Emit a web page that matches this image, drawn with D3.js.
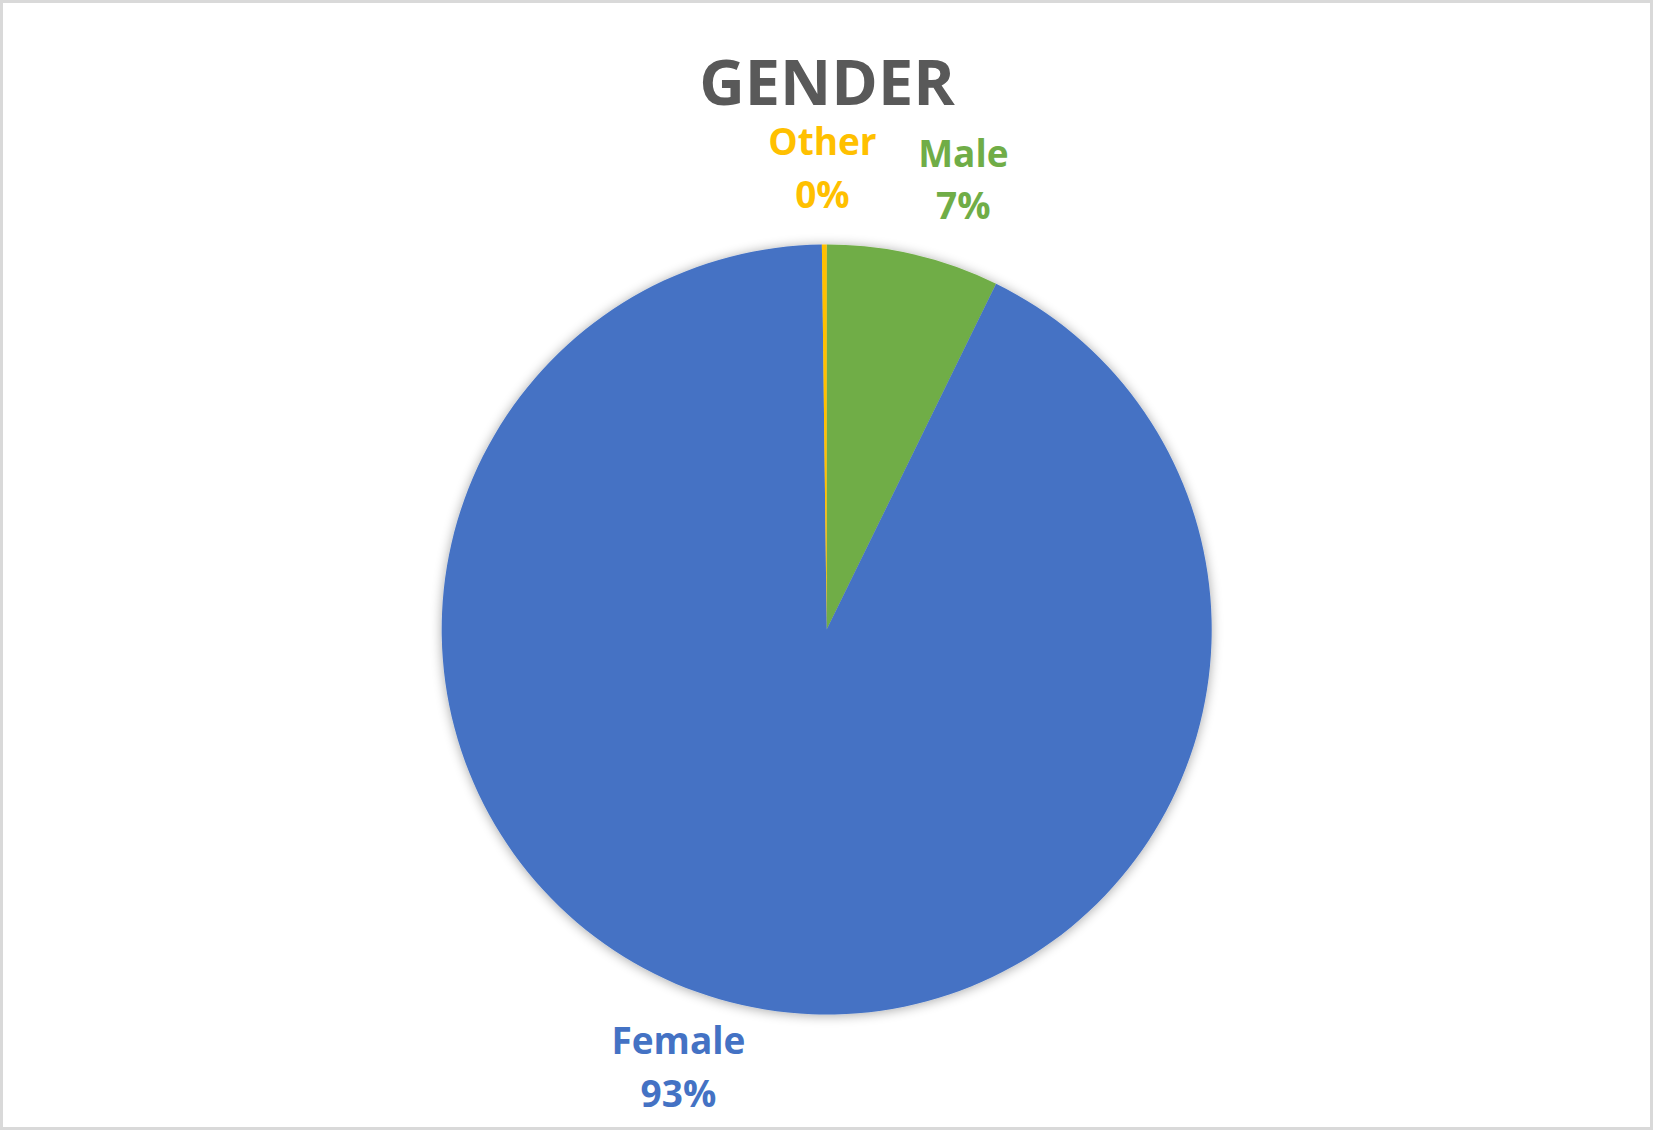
<!DOCTYPE html>
<html>
<head>
<meta charset="utf-8">
<script src="https://cdn.jsdelivr.net/npm/d3@7"></script>
<style>
  html, body { margin: 0; padding: 0; background: #fff; }
  svg { display: block; }
</style>
</head>
<body>
<script>
// ---- data ----
const categories = ["Male", "Female", "Other"];
const values = [7.25, 92.55, 0.2];
const colors = ["#70AD47", "#4472C4", "#FFC000"];
const title = "GENDER";

// ---- layout ----
const W = 1653, H = 1130;
const cx = 826.7, cy = 629.5, R = 385;
// label placement (polar, degrees clockwise from 12 o'clock), Excel best-fit style
const labelPolar = { Male: [16.9, 470], Female: [198.7, 462.5], Other: [359.47, 461] };

const svg = d3.select("body").append("svg").attr("width", W).attr("height", H);

svg.append("rect").attr("x", 1.5).attr("y", 1.5).attr("width", W - 3).attr("height", H - 3)
  .attr("fill", "#fff").attr("stroke", "#d9d9d9").attr("stroke-width", 3);

const defs = svg.append("defs");
const f = defs.append("filter").attr("id", "shadow").attr("x", "-20%").attr("y", "-20%")
  .attr("width", "140%").attr("height", "140%");
f.append("feGaussianBlur").attr("in", "SourceAlpha").attr("stdDeviation", 6).attr("result", "b");
f.append("feOffset").attr("in", "b").attr("dx", 0).attr("dy", 1).attr("result", "o");
f.append("feComponentTransfer").attr("in", "o").attr("result", "s")
  .append("feFuncA").attr("type", "linear").attr("slope", 0.35);
const m = f.append("feMerge");
m.append("feMergeNode").attr("in", "s");
m.append("feMergeNode").attr("in", "SourceGraphic");

svg.append("text").attr("x", 827).attr("y", 105).attr("text-anchor", "middle")
  .attr("font-family", "'Open Sans', sans-serif").attr("font-weight", 700)
  .attr("font-size", 63).attr("fill", "#595959").text(title);

const data = categories.map((c, i) => ({ cat: c, value: values[i], color: colors[i] }));
const total = d3.sum(values);
const pie = d3.pie().sort(null).value(d => d.value);
const arcs = pie(data);
const arc = d3.arc().innerRadius(0).outerRadius(R);

const g = svg.append("g").attr("transform", `translate(${cx},${cy})`);
g.append("g").attr("filter", "url(#shadow)")
  .selectAll("path").data(arcs).join("path")
  .attr("d", arc).attr("fill", d => d.data.color);

const lbl = g.append("g").selectAll("g").data(arcs).join("g")
  .attr("transform", d => {
    const [a, r] = labelPolar[d.data.cat];
    const p = d3.pointRadial(a * Math.PI / 180, r);
    return `translate(${p[0]},${p[1]})`;
  });
lbl.append("text").attr("text-anchor", "middle").attr("y", -13.2)
  .attr("font-family", "'Open Sans', sans-serif").attr("font-weight", 700)
  .attr("font-size", 37).attr("fill", d => d.data.color).text(d => d.data.cat);
lbl.append("text").attr("text-anchor", "middle").attr("y", 39.2)
  .attr("font-family", "'Open Sans', sans-serif").attr("font-weight", 700)
  .attr("font-size", 37).attr("fill", d => d.data.color)
  .text(d => Math.round(d.data.value / total * 100) + "%");
</script>
</body>
</html>
